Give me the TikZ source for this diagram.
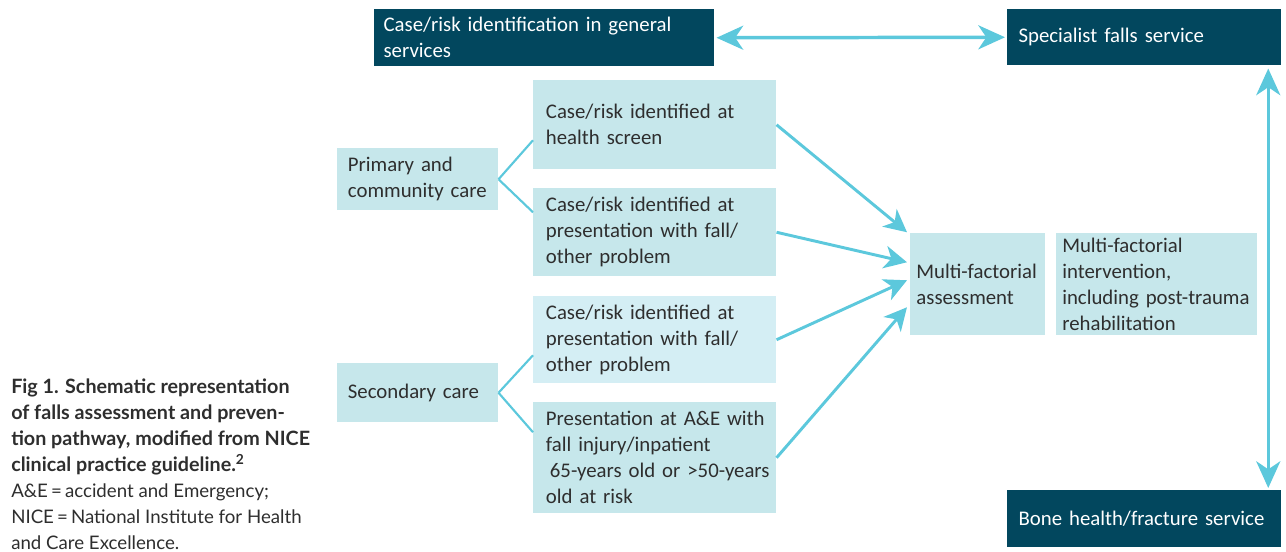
\documentclass[tikz,border=0pt]{standalone}
\usepackage{fontspec}
\setmainfont{Carlito}
\newfontfamily\capfont{Lato}
\usetikzlibrary{arrows.meta}

\definecolor{darkteal}{HTML}{02475E}
\definecolor{paleteal}{HTML}{C6E7EB}
\definecolor{paleblue}{HTML}{D4EEF4}
\definecolor{linkcyan}{HTML}{5CC8DC}
\definecolor{bodytext}{HTML}{2E2E2E}

\begin{document}
\begin{tikzpicture}[x=0.75pt, y=-0.75pt,
  every node/.style={font=\fontsize{15.6}{19.5}\selectfont},
  darkbox/.style={fill=darkteal, text=white, anchor=north west, align=left, inner xsep=8pt, inner ysep=0pt},
  lightbox/.style={fill=paleteal, text=bodytext, anchor=north west, align=left, inner xsep=8pt, inner ysep=0pt},
  link/.style={linkcyan, line width=1.6pt},
  flow/.style={linkcyan, line width=2.2pt, -{Stealth[length=17pt, width=17pt, inset=5pt]}},
  twoway/.style={linkcyan, line width=2.6pt, {Stealth[length=20pt, width=18pt, inset=6pt]}-{Stealth[length=20pt, width=18pt, inset=6pt]}}]

\useasboundingbox (0,0) rectangle (1286,552);

% Services (dark boxes)
\node[darkbox, inner xsep=7pt, text width=241pt, minimum height=42.75pt] (gen) at (374,9) {Case/risk identification in general\\services};
\node[darkbox, inner xsep=8.5pt, text width=188.5pt, minimum height=42pt] (spec) at (1007,9) {Specialist falls service};
\node[darkbox, inner xsep=8.5pt, text width=188.5pt, minimum height=42.75pt] (bone) at (1007,490) {Bone health/fracture service};

% Care settings
\node[lightbox, text width=104.75pt, minimum height=46.5pt] (prim) at (337,148) {Primary and\\community care};
\node[lightbox, text width=104.75pt, minimum height=44.25pt] (sec) at (337,363) {Secondary care};

% Case identification
\node[lightbox, inner xsep=9.5pt, text width=163.25pt, minimum height=66.75pt] (screen) at (533,80) {Case/risk identified at\\health screen};
\node[lightbox, inner xsep=9.5pt, text width=163.25pt, minimum height=66pt] (primfall) at (533,188) {Case/risk identified at\\presentation with fall/\\other problem};
\node[lightbox, inner xsep=9.5pt, fill=paleblue, text width=163.25pt, minimum height=65.25pt] (secfall) at (533,296) {Case/risk identified at\\presentation with fall/\\other problem};
\node[lightbox, inner xsep=9.5pt, text width=163.25pt, minimum height=83.25pt] (ae) at (533,402) {\mbox{Presentation at A\&E with}\\\mbox{fall injury/inpatient}\\\mbox{\hspace*{3pt}65-years old or >50-years}\\\mbox{old at risk}};

% Assessment and intervention
\node[lightbox, inner xsep=4.6pt, text width=92pt, minimum height=76.5pt] (assess) at (910,233) {Multi-factorial\\assessment};
\node[lightbox, inner xsep=4.5pt, text width=141.75pt, minimum height=76.5pt] (interv) at (1056,233) {Multi-factorial\\intervention,\\including post-trauma\\rehabilitation};

% Branches
\draw[link] (prim.east) -- ([shift={(0,15.5)}]screen.west);
\draw[link] (prim.east) -- ([shift={(0,-20)}]primfall.west);
\draw[link] (sec.east) -- ([shift={(0,15.5)}]secfall.west);
\draw[link] (sec.east) -- ([shift={(0,-25.5)}]ae.west);

% Arrows to assessment
\draw[flow] (screen.east) -- ([shift={(-3,-52)}]assess.west);
\draw[flow] (primfall.east) -- ([shift={(-3,-22)}]assess.west);
\draw[flow] (secfall.east) -- ([shift={(-3,-4)}]assess.west);
\draw[flow] (ae.east) -- ([shift={(-3,23)}]assess.west);

% Two-way links between services
\draw[twoway] ([shift={(2,0)}]gen.east) -- ([shift={(-2,0)}]spec.west);
\draw[twoway] ([shift={(124,3)}]spec.south) -- ([shift={(124,-2)}]bone.north);

% Caption
\node[anchor=north west, align=left, inner sep=0pt, text=bodytext,
  font=\capfont\fontsize{14}{19.5}\selectfont] (caption) at (11,379)
  {{\fontsize{14.8}{19.5}\selectfont\bfseries Fig 1. Schematic representation}\\
   {\fontsize{14.8}{19.5}\selectfont\bfseries of falls assessment and preven-}\\
   {\fontsize{14.8}{19.5}\selectfont\bfseries tion pathway, modified from NICE}\\
   {\fontsize{14.8}{19.5}\selectfont\bfseries clinical practice guideline.\textsuperscript{2}}\\
   A\&E\,=\,accident and Emergency;\\
   NICE\,=\,National Institute for Health\\
   and Care Excellence.};

\end{tikzpicture}
\end{document}
